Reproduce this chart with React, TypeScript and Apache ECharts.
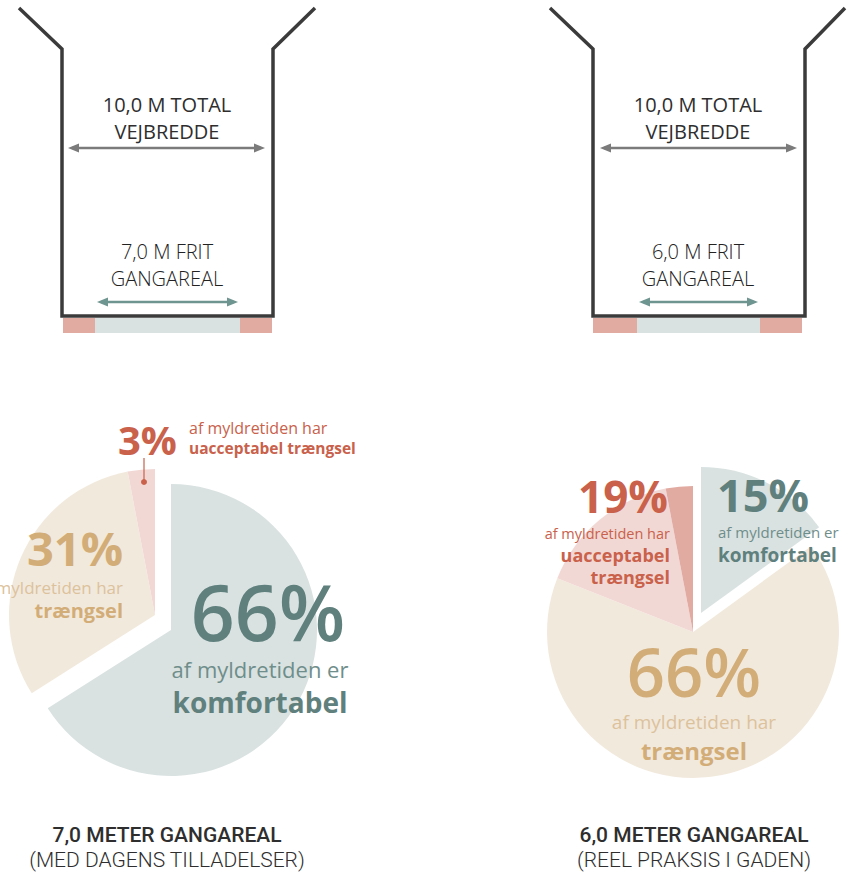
import React, { useEffect, useRef } from "react";
import * as echarts from "echarts";

// ---- data ----
const leftCategories = ["komfortabel", "trængsel", "uacceptabel trængsel"];
const leftValues = [66, 31, 3];
const rightCategories = ["komfortabel", "trængsel", "uacceptabel trængsel", "uacceptabel trængsel (mørk)"];
const rightValues = [15, 66, 16, 3];
const totalWidthLabel = ["10,0 M TOTAL", "VEJBREDDE"];
const leftFreeLabel = ["7,0 M FRIT", "GANGAREAL"];
const rightFreeLabel = ["6,0 M FRIT", "GANGAREAL"];
const leftCaption = ["7,0 METER GANGAREAL", "(MED DAGENS TILLADELSER)"];
const rightCaption = ["6,0 METER GANGAREAL", "(REEL PRAKSIS I GADEN)"];

const C = {
  teal: "#5f807d",
  tealLight: "#6f8e8b",
  tealPale: "#d9e2e1",
  tan: "#d2ad78",
  tanLight: "#dcc29c",
  tanPale: "#f2e9dd",
  red: "#c9614b",
  pinkPale: "#f2d8d4",
  pinkDark: "#e1aba2",
  wall: "#3b3b3b",
  grayArrow: "#7b7b7b",
  tealArrow: "#6f9590",
  strip: "#d9e2e1",
  stripPink: "#e2aba1",
};

const FONT = "'Open Sans', sans-serif";

function arrow(x1: number, x2: number, y: number, color: string, w: number) {
  const L = 11, H = 4.5;
  return [
    { type: "line", shape: { x1: x1 + 4, y1: y, x2: x2 - 4, y2: y }, style: { stroke: color, lineWidth: w } },
    { type: "polygon", shape: { points: [[x1, y], [x1 + L, y - H], [x1 + L, y + H]] }, style: { fill: color } },
    { type: "polygon", shape: { points: [[x2, y], [x2 - L, y - H], [x2 - L, y + H]] }, style: { fill: color } },
  ];
}

function diagram(o: any) {
  const els: any[] = [];
  els.push({
    type: "polyline",
    shape: { points: [[o.l0, 8], [o.l, 49], [o.l, 316], [o.r, 316], [o.r, 49], [o.r0, 8]] },
    style: { stroke: C.wall, lineWidth: 3.5, fill: null, lineJoin: "miter" },
  });
  els.push({ type: "rect", shape: { x: o.s0, y: 318, width: o.s1 - o.s0, height: 15 }, style: { fill: C.stripPink } });
  els.push({ type: "rect", shape: { x: o.s1, y: 318, width: o.s2 - o.s1, height: 15 }, style: { fill: C.strip } });
  els.push({ type: "rect", shape: { x: o.s2, y: 318, width: o.s3 - o.s2, height: 15 }, style: { fill: C.stripPink } });
  els.push(...arrow(o.a0, o.a1, 148, C.grayArrow, 2.5));
  els.push(...arrow(o.s1 + 2, o.s2 - 2, 302, C.tealArrow, 2.5));
  o.total.forEach((t: string, i: number) =>
    els.push({
      type: "text", x: o.cx, y: 104 + i * 27,
      style: { text: t, font: `500 20px ${FONT}`, fill: "#2e2e2e", textAlign: "center", textVerticalAlign: "middle" },
    })
  );
  o.free.forEach((t: string, i: number) =>
    els.push({
      type: "text", x: o.cx, y: 251 + i * 27,
      style: { text: t, font: `300 20px ${FONT}`, fill: "#222", textAlign: "center", textVerticalAlign: "middle" },
    })
  );
  return els;
}

function txt(text: string, x: number, y: number, font: string, fill: string, align = "left") {
  return { type: "text", x, y, z: 100, style: { text, font, fill, textAlign: align, textVerticalAlign: "middle" } };
}

export default function App() {
  const ref = useRef<HTMLDivElement>(null);
  useEffect(() => {
    if (!ref.current) return;
    const chart = echarts.init(ref.current, null, { renderer: "svg" });

    const leftColors = [C.tealPale, C.tanPale, C.pinkPale];
    const rightColors = [C.tealPale, C.tanPale, C.pinkPale, C.pinkDark];

    const pieBase = {
      type: "pie",
      radius: 146,
      startAngle: 90,
      clockwise: true,
      silent: true,
      z: 1,
      label: { show: false },
      labelLine: { show: false },
      emphasis: { disabled: true },
      avoidLabelOverlap: false,
    };
    const mk = (cats: string[], vals: number[], colors: string[], show: (i: number) => boolean) =>
      cats.map((n, i) => ({
        name: n,
        value: vals[i],
        itemStyle: { color: show(i) ? colors[i] : "rgba(0,0,0,0)", borderWidth: 0 },
      }));

    const series = [
      { ...pieBase, center: [171, 630], data: mk(leftCategories, leftValues, leftColors, (i) => i === 0) },
      { ...pieBase, center: [155, 615], data: mk(leftCategories, leftValues, leftColors, (i) => i !== 0) },
      { ...pieBase, center: [701, 613], data: mk(rightCategories, rightValues, rightColors, (i) => i === 0) },
      { ...pieBase, center: [693, 632], data: mk(rightCategories, rightValues, rightColors, (i) => i !== 0) },
    ];

    const rUacc = rightValues[2] + rightValues[3];

    const graphics: any[] = [
      ...diagram({ l0: 19, l: 62, r: 273, r0: 315, s0: 63, s1: 95, s2: 240, s3: 272, a0: 68, a1: 265, cx: 167, total: totalWidthLabel, free: leftFreeLabel }),
      ...diagram({ l0: 550, l: 593, r: 805, r0: 845, s0: 593, s1: 637, s2: 760, s3: 802, a0: 600, a1: 797, cx: 698, total: totalWidthLabel, free: rightFreeLabel }),
      // left pie labels
      txt(`${leftValues[2]}%`, 118, 439, `700 40px ${FONT}`, C.red),
      txt("af myldretiden har", 189, 428, `400 16px ${FONT}`, C.red),
      txt("uacceptabel trængsel", 189, 448, `700 15.5px ${FONT}`, C.red),
      { type: "line", z: 100, shape: { x1: 144, y1: 458, x2: 144, y2: 482 }, style: { stroke: C.red, lineWidth: 1.2 } },
      { type: "circle", z: 100, shape: { cx: 144, cy: 482, r: 3 }, style: { fill: C.red } },
      txt(`${leftValues[1]}%`, 123, 548, `700 47px ${FONT}`, C.tan, "right"),
      txt("af myldretiden har", 123, 587, `400 17px ${FONT}`, C.tanLight, "right"),
      txt("trængsel", 123, 610, `700 20px ${FONT}`, C.tan, "right"),
      txt(`${leftValues[0]}%`, 268, 611, `600 77px ${FONT}`, C.teal, "center"),
      txt("af myldretiden er", 260, 669, `400 22px ${FONT}`, C.tealLight, "center"),
      txt("komfortabel", 260, 702, `700 28px ${FONT}`, C.teal, "center"),
      // right pie labels
      txt(`${rUacc}%`, 668, 496, `700 44px ${FONT}`, C.red, "right"),
      txt("af myldretiden har", 670, 533, `400 14.5px ${FONT}`, C.red, "right"),
      txt("uacceptabel", 670, 555, `700 18px ${FONT}`, C.red, "right"),
      txt("trængsel", 670, 577, `700 18px ${FONT}`, C.red, "right"),
      txt(`${rightValues[0]}%`, 717, 494, `700 45px ${FONT}`, C.teal),
      txt("af myldretiden er", 718, 532, `400 15px ${FONT}`, C.tealLight),
      txt("komfortabel", 718, 555, `700 19px ${FONT}`, C.teal),
      txt(`${rightValues[1]}%`, 694, 671, `600 67px ${FONT}`, C.tan, "center"),
      txt("af myldretiden har", 694, 722, `400 19px ${FONT}`, C.tanLight, "center"),
      txt("trængsel", 694, 750, `700 24px ${FONT}`, C.tan, "center"),
      // captions
      txt(leftCaption[0], 167, 835, `500 21px Roboto`, "#2e2e2e", "center"),
      txt(leftCaption[1], 167, 860, `300 21px Roboto`, "#2e2e2e", "center"),
      txt(rightCaption[0], 694, 835, `500 21px Roboto`, "#2e2e2e", "center"),
      txt(rightCaption[1], 694, 860, `300 21px Roboto`, "#2e2e2e", "center"),
    ];

    chart.setOption({
      animation: false,
      backgroundColor: "#ffffff",
      series,
      graphic: { elements: graphics },
    });
    return () => chart.dispose();
  }, []);
  return (
    <div
      ref={ref}
      style={{ position: "fixed", left: 0, top: 0, width: 847, height: 873, background: "#fff" }}
    />
  );
}
